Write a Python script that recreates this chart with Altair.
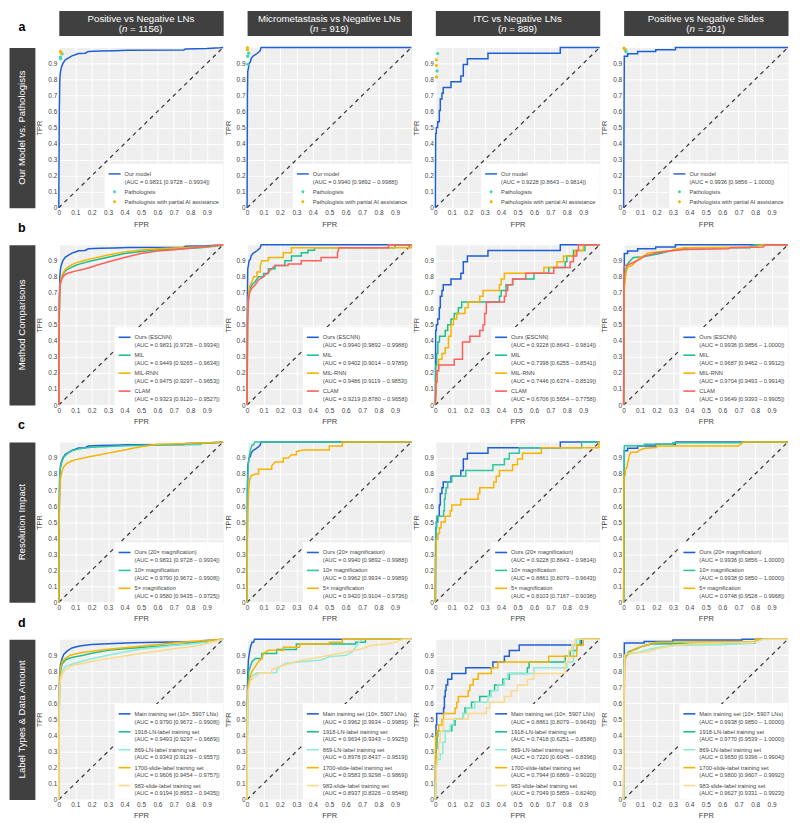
import altair as alt
import pandas as pd

FONT = "Liberation Sans"
TICKS = [0, 0.1, 0.2, 0.3, 0.4, 0.5, 0.6, 0.7, 0.8, 0.9]
DIAG = [(0, 0), (1, 1)]

COL_TITLES = ["Positive vs Negative LNs", "Micrometastasis vs Negative LNs",
              "ITC vs Negative LNs", "Positive vs Negative Slides"]
COL_N = ["1156", "919", "889", "201"]
ROW_TITLES = ["Our Model vs. Pathologists", "Method Comparisons",
              "Resolution Impact", "Label Types & Data Amount"]
ROW_LETTERS = ["a", "b", "c", "d"]

NAMES_A = ["Our model"]
NAMES_B = ["Ours (ESCNN)", "MIL", "MIL-RNN", "CLAM"]
NAMES_C = ["Ours (20× magnification)", "10× magnification", "5× magnification"]
NAMES_D = ["Main training set (10×, 5907 LNs)", "1918-LN-label training set",
           "869-LN-label training set", "1700-slide-label training set",
           "983-slide-label training set"]
PATH_NAMES = ["Pathologists", "Pathologists with partial AI assistance"]

# AUC texts per column (Positive, Micro, ITC, Slides)
AUC_OURS = ["0.9831 [0.9728 – 0.9934]", "0.9940 [0.9892 – 0.9988]",
            "0.9228 [0.8643 – 0.9814]", "0.9936 [0.9856 – 1.0000]"]
AUC_MIL = ["0.9449 [0.9265 – 0.9634]", "0.9402 [0.9014 – 0.9789]",
           "0.7398 [0.6255 – 0.8541]", "0.9687 [0.9462 – 0.9912]"]
AUC_MILRNN = ["0.9475 [0.9297 – 0.9653]", "0.9486 [0.9119 – 0.9853]",
              "0.7446 [0.6374 – 0.8519]", "0.9704 [0.9493 – 0.9914]"]
AUC_CLAM = ["0.9323 [0.9120 – 0.9527]", "0.9219 [0.8780 – 0.9658]",
            "0.6706 [0.5654 – 0.7758]", "0.9649 [0.9393 – 0.9905]"]
AUC_10X = ["0.9790 [0.9672 – 0.9908]", "0.9962 [0.9934 – 0.9989]",
           "0.8861 [0.8079 – 0.9643]", "0.9938 [0.9850 – 1.0000]"]
AUC_5X = ["0.9580 [0.9435 – 0.9725]", "0.9420 [0.9104 – 0.9736]",
          "0.8103 [0.7167 – 0.9038]", "0.9748 [0.9528 – 0.9968]"]
AUC_1918 = ["0.9493 [0.9297 – 0.9689]", "0.9634 [0.9343 – 0.9925]",
            "0.7418 [0.6251 – 0.8586]", "0.9770 [0.9539 – 1.0000]"]
AUC_869 = ["0.9343 [0.9129 – 0.9557]", "0.8978 [0.8437 – 0.9519]",
           "0.7220 [0.6045 – 0.8396]", "0.9650 [0.9396 – 0.9904]"]
AUC_1700 = ["0.9606 [0.9454 – 0.9757]", "0.9583 [0.9298 – 0.9869]",
            "0.7944 [0.6869 – 0.9020]", "0.9800 [0.9607 – 0.9992]"]
AUC_983 = ["0.9194 [0.8953 – 0.9435]", "0.8937 [0.8326 – 0.9548]",
           "0.7049 [0.5859 – 0.8240]", "0.9627 [0.9331 – 0.9923]"]

# ---------------- ROC curves (fpr, tpr) ----------------
# Positive vs Negative LNs
OURS_POS = [(0, 0), (0.003, 0.6), (0.006, 0.8), (0.01, 0.847), (0.016, 0.875), (0.025, 0.9),
            (0.04, 0.922), (0.06, 0.935), (0.08, 0.947), (0.1, 0.954), (0.12, 0.962), (0.16, 0.964),
            (0.18, 0.974), (0.25, 0.977), (0.34, 0.979), (0.42, 0.982), (0.76, 0.984), (0.77, 0.99),
            (0.9, 0.993), (0.98, 0.998), (1, 1)]
MIL_POS = [(0, 0), (0.002, 0.5), (0.005, 0.7), (0.01, 0.76), (0.02, 0.8), (0.035, 0.83), (0.05, 0.845),
           (0.08, 0.86), (0.1, 0.87), (0.13, 0.88), (0.2, 0.9), (0.3, 0.922), (0.4, 0.945), (0.5, 0.958),
           (0.6, 0.968), (0.74, 0.975), (0.86, 0.98), (0.95, 0.99), (1, 1)]
MILRNN_POS = [(0, 0), (0.002, 0.5), (0.005, 0.7), (0.01, 0.77), (0.02, 0.81), (0.035, 0.84), (0.05, 0.855),
              (0.08, 0.875), (0.1, 0.885), (0.15, 0.9), (0.2, 0.913), (0.3, 0.935), (0.4, 0.955),
              (0.5, 0.966), (0.6, 0.974), (0.7, 0.979), (0.85, 0.985), (0.92, 0.99), (1, 1)]
CLAM_POS = [(0, 0), (0.002, 0.5), (0.004, 0.68), (0.01, 0.76), (0.02, 0.79), (0.035, 0.81), (0.05, 0.82),
            (0.08, 0.83), (0.1, 0.835), (0.13, 0.842), (0.18, 0.855), (0.24, 0.875), (0.32, 0.898),
            (0.4, 0.92), (0.5, 0.945), (0.6, 0.96), (0.7, 0.968), (0.8, 0.978), (0.9, 0.988), (1, 1)]
TEN_POS = [(0, 0), (0.002, 0.6), (0.005, 0.78), (0.01, 0.84), (0.02, 0.88), (0.03, 0.905), (0.05, 0.925),
           (0.08, 0.945), (0.12, 0.956), (0.16, 0.962), (0.2, 0.967), (0.3, 0.972), (0.45, 0.977),
           (0.6, 0.98), (0.86, 0.983), (0.87, 0.99), (0.95, 0.995), (1, 1)]
FIVE_POS = [(0, 0), (0.002, 0.5), (0.005, 0.65), (0.01, 0.77), (0.02, 0.82), (0.03, 0.845), (0.05, 0.867),
            (0.08, 0.882), (0.1, 0.888), (0.15, 0.9), (0.2, 0.91), (0.25, 0.92), (0.3, 0.93), (0.35, 0.94),
            (0.4, 0.95), (0.45, 0.96), (0.5, 0.97), (0.55, 0.978), (0.6, 0.985), (0.8, 0.99), (1, 1)]
L1918_POS = [(0, 0), (0.002, 0.5), (0.005, 0.72), (0.01, 0.8), (0.02, 0.845), (0.04, 0.87), (0.07, 0.882),
             (0.1, 0.89), (0.15, 0.9), (0.2, 0.912), (0.3, 0.93), (0.4, 0.94), (0.5, 0.948), (0.6, 0.955),
             (0.7, 0.963), (0.8, 0.973), (0.9, 0.985), (1, 1)]
L869_POS = [(0, 0), (0.002, 0.5), (0.005, 0.7), (0.01, 0.77), (0.02, 0.8), (0.04, 0.83), (0.1, 0.85),
            (0.15, 0.865), (0.2, 0.878), (0.3, 0.9), (0.4, 0.92), (0.5, 0.938), (0.6, 0.95), (0.7, 0.96),
            (0.8, 0.97), (0.9, 0.98), (1, 1)]
S1700_POS = [(0, 0), (0.002, 0.5), (0.005, 0.75), (0.01, 0.82), (0.02, 0.86), (0.04, 0.88), (0.07, 0.9),
             (0.1, 0.907), (0.15, 0.918), (0.2, 0.925), (0.3, 0.937), (0.4, 0.947), (0.5, 0.956),
             (0.6, 0.966), (0.7, 0.976), (0.8, 0.985), (0.9, 0.992), (1, 1)]
S983_POS = [(0, 0), (0.002, 0.5), (0.005, 0.68), (0.01, 0.75), (0.02, 0.78), (0.04, 0.81), (0.07, 0.83),
            (0.1, 0.84), (0.15, 0.85), (0.2, 0.86), (0.3, 0.88), (0.4, 0.895), (0.5, 0.91), (0.6, 0.925),
            (0.7, 0.94), (0.8, 0.953), (0.85, 0.96), (0.9, 0.972), (1, 1)]

# Micrometastasis vs Negative LNs
OURS_MIC = [(0, 0), (0.002, 0.7), (0.004, 0.85), (0.008, 0.87), (0.012, 0.9), (0.02, 0.91), (0.025, 0.93),
            (0.035, 0.945), (0.05, 0.955), (0.06, 0.962), (0.07, 0.97), (0.08, 0.98), (0.085, 1.0), (1, 1)]
MIL_MIC = [(0, 0), (0.003, 0.6), (0.008, 0.66), (0.015, 0.72), (0.03, 0.75), (0.05, 0.77), (0.07, 0.8),
           (0.1, 0.8), (0.1, 0.82), (0.13, 0.82), (0.13, 0.85), (0.17, 0.85), (0.17, 0.87), (0.23, 0.87),
           (0.23, 0.9), (0.27, 0.9), (0.27, 0.93), (0.33, 0.93), (0.33, 0.95), (0.37, 0.95), (0.37, 0.965),
           (0.41, 0.965), (0.41, 0.98), (0.9, 0.98), (0.9, 1.0), (1, 1)]
MILRNN_MIC = [(0, 0), (0.003, 0.55), (0.008, 0.68), (0.015, 0.74), (0.03, 0.77), (0.04, 0.8), (0.06, 0.8),
              (0.06, 0.83), (0.08, 0.83), (0.08, 0.87), (0.09, 0.9), (0.13, 0.9), (0.13, 0.92), (0.22, 0.92),
              (0.22, 0.95), (0.27, 0.95), (0.27, 0.98), (1.0, 0.98), (1, 1)]
CLAM_MIC = [(0, 0), (0.003, 0.5), (0.008, 0.65), (0.015, 0.7), (0.03, 0.73), (0.05, 0.75), (0.07, 0.78),
            (0.1, 0.8), (0.13, 0.83), (0.15, 0.85), (0.17, 0.87), (0.25, 0.87), (0.25, 0.88), (0.33, 0.88),
            (0.33, 0.9), (0.45, 0.9), (0.45, 0.92), (0.55, 0.92), (0.55, 0.95), (0.56, 0.98), (0.86, 0.98),
            (0.86, 1.0), (1, 1)]
TEN_MIC = [(0, 0), (0.002, 0.7), (0.005, 0.8), (0.008, 0.87), (0.012, 0.9), (0.02, 0.95), (0.03, 0.98),
           (0.04, 0.98), (0.045, 1.0), (1, 1)]
FIVE_MIC = [(0, 0), (0.002, 0.4), (0.005, 0.58), (0.01, 0.7), (0.015, 0.76), (0.025, 0.79), (0.05, 0.8),
            (0.07, 0.8), (0.07, 0.83), (0.15, 0.83), (0.15, 0.85), (0.17, 0.875), (0.22, 0.875), (0.22, 0.9),
            (0.25, 0.9), (0.27, 0.92), (0.3, 0.92), (0.3, 0.94), (0.34, 0.95), (0.5, 0.95), (0.5, 0.975),
            (0.58, 0.975), (0.58, 1.0), (1, 1)]
L1918_MIC = [(0, 0), (0.002, 0.6), (0.006, 0.72), (0.01, 0.8), (0.02, 0.83), (0.03, 0.86), (0.05, 0.88),
             (0.09, 0.88), (0.09, 0.91), (0.18, 0.91), (0.18, 0.935), (0.3, 0.935), (0.3, 0.97), (0.66, 0.97),
             (0.66, 0.98), (0.72, 0.98), (0.72, 1.0), (1, 1)]
L869_MIC = [(0, 0), (0.002, 0.55), (0.006, 0.68), (0.015, 0.74), (0.03, 0.77), (0.06, 0.79), (0.18, 0.79),
            (0.18, 0.81), (0.2, 0.83), (0.24, 0.85), (0.35, 0.86), (0.45, 0.87), (0.5, 0.89), (0.6, 0.9),
            (0.64, 0.92), (0.66, 0.95), (0.68, 0.98), (0.7, 1.0), (1, 1)]
S1700_MIC = [(0, 0), (0.002, 0.6), (0.006, 0.7), (0.015, 0.76), (0.03, 0.8), (0.05, 0.83), (0.07, 0.86),
             (0.09, 0.88), (0.1, 0.91), (0.13, 0.93), (0.22, 0.93), (0.22, 0.95), (0.32, 0.95), (0.32, 0.97),
             (0.5, 0.97), (0.5, 0.98), (0.58, 0.98), (0.58, 1.0), (1, 1)]
S983_MIC = [(0, 0), (0.002, 0.55), (0.008, 0.68), (0.02, 0.74), (0.05, 0.77), (0.08, 0.79), (0.15, 0.79),
            (0.15, 0.81), (0.2, 0.83), (0.25, 0.845), (0.3, 0.86), (0.4, 0.88), (0.5, 0.9), (0.6, 0.92),
            (0.7, 0.94), (0.75, 0.96), (0.85, 0.97), (0.9, 0.98), (0.95, 1.0), (1, 1)]

# ITC vs Negative LNs
OURS_ITC = [(0, 0), (0.002, 0.464), (0.006, 0.464), (0.006, 0.5), (0.014, 0.5), (0.014, 0.536),
            (0.024, 0.536), (0.024, 0.607), (0.03, 0.607), (0.03, 0.679), (0.04, 0.679), (0.04, 0.714),
            (0.048, 0.714), (0.048, 0.75), (0.095, 0.75), (0.095, 0.786), (0.155, 0.786), (0.155, 0.821),
            (0.17, 0.821), (0.17, 0.893), (0.195, 0.893), (0.195, 0.929), (0.32, 0.929), (0.32, 0.964),
            (0.76, 0.964), (0.76, 1.0), (1, 1)]
MIL_ITC = [(0, 0), (0.002, 0.25), (0.008, 0.25), (0.008, 0.321), (0.015, 0.321), (0.015, 0.393),
           (0.025, 0.393), (0.025, 0.429), (0.06, 0.429), (0.06, 0.464), (0.075, 0.464), (0.075, 0.5),
           (0.095, 0.5), (0.095, 0.536), (0.115, 0.536), (0.115, 0.571), (0.14, 0.571), (0.14, 0.607),
           (0.16, 0.607), (0.16, 0.643), (0.39, 0.643), (0.39, 0.679), (0.4, 0.679), (0.4, 0.714),
           (0.43, 0.714), (0.43, 0.75), (0.47, 0.75), (0.47, 0.786), (0.6, 0.786), (0.6, 0.821),
           (0.69, 0.821), (0.69, 0.857), (0.79, 0.857), (0.79, 0.893), (0.8, 0.893), (0.8, 0.929),
           (0.84, 0.929), (0.84, 0.964), (0.91, 0.964), (0.91, 1.0), (1, 1)]
MILRNN_ITC = [(0, 0), (0.002, 0.071), (0.004, 0.071), (0.004, 0.143), (0.01, 0.143), (0.01, 0.214),
              (0.02, 0.214), (0.02, 0.286), (0.04, 0.286), (0.04, 0.321), (0.06, 0.321), (0.06, 0.357),
              (0.08, 0.357), (0.08, 0.429), (0.095, 0.429), (0.095, 0.5), (0.11, 0.5), (0.11, 0.536),
              (0.13, 0.536), (0.13, 0.571), (0.18, 0.571), (0.18, 0.607), (0.2, 0.607), (0.2, 0.643),
              (0.27, 0.643), (0.27, 0.679), (0.29, 0.679), (0.29, 0.714), (0.39, 0.714), (0.39, 0.75),
              (0.4, 0.75), (0.4, 0.786), (0.42, 0.786), (0.42, 0.821), (0.66, 0.821), (0.66, 0.857),
              (0.74, 0.857), (0.74, 0.893), (0.78, 0.893), (0.78, 0.929), (0.85, 0.929), (0.85, 0.964),
              (0.9, 0.964), (0.9, 1.0), (1, 1)]
CLAM_ITC = [(0, 0), (0.002, 0.071), (0.004, 0.071), (0.004, 0.143), (0.01, 0.143), (0.01, 0.214),
            (0.02, 0.214), (0.02, 0.25), (0.115, 0.25), (0.115, 0.286), (0.165, 0.286), (0.165, 0.393),
            (0.21, 0.393), (0.21, 0.429), (0.27, 0.429), (0.27, 0.464), (0.29, 0.464), (0.29, 0.5),
            (0.3, 0.5), (0.3, 0.571), (0.31, 0.571), (0.31, 0.643), (0.42, 0.643), (0.42, 0.679),
            (0.43, 0.679), (0.43, 0.714), (0.44, 0.714), (0.44, 0.75), (0.47, 0.75), (0.47, 0.786),
            (0.55, 0.786), (0.55, 0.821), (0.72, 0.821), (0.72, 0.857), (0.82, 0.857), (0.82, 0.893),
            (0.84, 0.893), (0.84, 0.929), (0.86, 0.929), (0.86, 0.964), (0.87, 0.964), (0.87, 1.0), (1, 1)]
TEN_ITC = [(0, 0), (0.002, 0.393), (0.004, 0.393), (0.004, 0.464), (0.008, 0.464), (0.008, 0.536),
           (0.05, 0.536), (0.05, 0.571), (0.055, 0.571), (0.055, 0.643), (0.06, 0.643), (0.06, 0.679),
           (0.065, 0.679), (0.065, 0.714), (0.075, 0.714), (0.075, 0.75), (0.1, 0.75), (0.1, 0.786),
           (0.185, 0.786), (0.185, 0.821), (0.35, 0.821), (0.35, 0.857), (0.42, 0.857), (0.42, 0.893),
           (0.45, 0.893), (0.45, 0.929), (0.51, 0.929), (0.51, 0.964), (0.89, 0.964), (0.89, 1.0), (1, 1)]
FIVE_ITC = [(0, 0), (0.002, 0.286), (0.005, 0.286), (0.005, 0.393), (0.015, 0.393), (0.015, 0.429),
            (0.025, 0.429), (0.025, 0.464), (0.035, 0.464), (0.035, 0.5), (0.06, 0.5), (0.06, 0.536),
            (0.09, 0.536), (0.09, 0.571), (0.1, 0.571), (0.1, 0.607), (0.155, 0.607), (0.155, 0.643),
            (0.26, 0.643), (0.26, 0.679), (0.27, 0.679), (0.27, 0.714), (0.355, 0.714), (0.355, 0.75),
            (0.37, 0.75), (0.37, 0.786), (0.39, 0.786), (0.39, 0.821), (0.47, 0.821), (0.47, 0.857),
            (0.5, 0.857), (0.5, 0.893), (0.53, 0.893), (0.53, 0.929), (0.645, 0.929), (0.645, 0.964),
            (0.995, 0.964), (0.995, 1.0), (1, 1)]
L1918_ITC = [(0, 0), (0.002, 0.25), (0.005, 0.25), (0.005, 0.321), (0.01, 0.321), (0.01, 0.393),
             (0.015, 0.393), (0.015, 0.429), (0.1, 0.429), (0.1, 0.464), (0.12, 0.464), (0.12, 0.5),
             (0.17, 0.5), (0.17, 0.536), (0.18, 0.536), (0.18, 0.571), (0.22, 0.571), (0.22, 0.607),
             (0.27, 0.607), (0.27, 0.643), (0.33, 0.643), (0.33, 0.679), (0.36, 0.679), (0.36, 0.714),
             (0.41, 0.714), (0.41, 0.75), (0.45, 0.75), (0.45, 0.786), (0.56, 0.786), (0.56, 0.821),
             (0.57, 0.821), (0.57, 0.857), (0.79, 0.857), (0.79, 0.893), (0.82, 0.893), (0.82, 0.929),
             (0.86, 0.929), (0.86, 0.964), (0.88, 0.964), (0.88, 1.0), (1, 1)]
L869_ITC = [(0, 0), (0.002, 0.214), (0.01, 0.214), (0.01, 0.25), (0.03, 0.25), (0.03, 0.286),
            (0.045, 0.286), (0.045, 0.357), (0.06, 0.357), (0.06, 0.429), (0.09, 0.429), (0.09, 0.464),
            (0.11, 0.464), (0.11, 0.5), (0.17, 0.5), (0.17, 0.536), (0.19, 0.536), (0.19, 0.571),
            (0.24, 0.571), (0.24, 0.607), (0.32, 0.607), (0.32, 0.643), (0.34, 0.643), (0.34, 0.679),
            (0.38, 0.679), (0.38, 0.714), (0.42, 0.714), (0.42, 0.75), (0.44, 0.75), (0.44, 0.786),
            (0.6, 0.786), (0.6, 0.821), (0.8, 0.821), (0.8, 0.857), (0.84, 0.857), (0.84, 0.964),
            (0.86, 0.964), (0.86, 1.0), (1, 1)]
S1700_ITC = [(0, 0), (0.002, 0.393), (0.01, 0.393), (0.01, 0.429), (0.02, 0.429), (0.02, 0.464),
             (0.04, 0.464), (0.04, 0.5), (0.05, 0.5), (0.05, 0.536), (0.12, 0.536), (0.12, 0.571),
             (0.13, 0.571), (0.13, 0.607), (0.14, 0.607), (0.14, 0.643), (0.2, 0.643), (0.2, 0.679),
             (0.21, 0.679), (0.21, 0.714), (0.23, 0.714), (0.23, 0.75), (0.26, 0.75), (0.26, 0.786),
             (0.34, 0.786), (0.34, 0.821), (0.38, 0.821), (0.38, 0.857), (0.69, 0.857), (0.69, 0.893),
             (0.86, 0.893), (0.86, 0.964), (0.9, 0.964), (0.9, 1.0), (1, 1)]
S983_ITC = [(0, 0), (0.002, 0.107), (0.005, 0.107), (0.005, 0.214), (0.012, 0.214), (0.012, 0.286),
            (0.02, 0.286), (0.02, 0.357), (0.03, 0.357), (0.03, 0.429), (0.05, 0.429), (0.05, 0.5),
            (0.2, 0.5), (0.2, 0.536), (0.31, 0.536), (0.31, 0.571), (0.33, 0.571), (0.33, 0.607),
            (0.42, 0.607), (0.42, 0.643), (0.46, 0.643), (0.46, 0.679), (0.5, 0.679), (0.5, 0.714),
            (0.56, 0.714), (0.56, 0.75), (0.6, 0.75), (0.6, 0.786), (0.79, 0.786), (0.79, 0.857),
            (0.81, 0.857), (0.81, 0.929), (0.83, 0.929), (0.83, 0.964), (0.85, 0.964), (0.85, 1.0), (1, 1)]

# Positive vs Negative Slides
OURS_SLD = [(0, 0), (0.004, 0.945), (0.024, 0.945), (0.024, 0.96), (0.085, 0.96), (0.085, 0.975),
            (0.195, 0.975), (0.195, 0.985), (0.315, 0.985), (0.315, 1.0), (1, 1)]
MIL_SLD = [(0, 0), (0.002, 0.6), (0.004, 0.77), (0.008, 0.8), (0.015, 0.85), (0.025, 0.88), (0.04, 0.9),
           (0.06, 0.92), (0.12, 0.925), (0.15, 0.93), (0.2, 0.94), (0.24, 0.95), (0.28, 0.96), (0.33, 0.97),
           (0.4, 0.98), (0.77, 0.98), (0.77, 0.99), (0.8, 1.0), (1, 1)]
MILRNN_SLD = [(0, 0), (0.002, 0.6), (0.004, 0.73), (0.008, 0.76), (0.015, 0.83), (0.025, 0.86), (0.05, 0.87),
              (0.08, 0.9), (0.1, 0.92), (0.13, 0.935), (0.15, 0.95), (0.28, 0.96), (0.3, 0.97), (0.37, 0.98),
              (0.8, 0.985), (0.84, 1.0), (1, 1)]
CLAM_SLD = [(0, 0), (0.002, 0.86), (0.01, 0.87), (0.03, 0.875), (0.06, 0.89), (0.1, 0.91), (0.13, 0.93),
            (0.2, 0.95), (0.28, 0.96), (0.37, 0.97), (0.64, 0.975), (0.65, 0.98), (0.85, 0.985), (0.86, 1.0),
            (1, 1)]
TEN_SLD = [(0, 0), (0.004, 0.976), (0.125, 0.976), (0.125, 0.986), (0.3, 0.986), (0.3, 0.995),
           (0.72, 0.995), (0.72, 1.0), (1, 1)]
FIVE_SLD = [(0, 0), (0.002, 0.79), (0.01, 0.79), (0.01, 0.83), (0.02, 0.84), (0.025, 0.87), (0.03, 0.89),
            (0.035, 0.92), (0.045, 0.935), (0.085, 0.935), (0.09, 0.945), (0.1, 0.95), (0.13, 0.96),
            (0.2, 0.965), (0.2, 0.975), (0.7, 0.975), (0.71, 0.985), (0.73, 1.0), (1, 1)]
L1918_SLD = [(0, 0), (0.002, 0.78), (0.005, 0.86), (0.01, 0.9), (0.03, 0.92), (0.05, 0.93), (0.08, 0.94),
             (0.1, 0.95), (0.13, 0.96), (0.17, 0.97), (0.8, 0.975), (0.8, 0.98), (0.83, 1.0), (1, 1)]
L869_SLD = [(0, 0), (0.002, 0.77), (0.006, 0.86), (0.02, 0.9), (0.05, 0.91), (0.1, 0.92), (0.13, 0.93),
            (0.17, 0.94), (0.22, 0.95), (0.3, 0.96), (0.6, 0.965), (0.8, 0.975), (0.8, 0.98), (0.85, 1.0),
            (1, 1)]
S1700_SLD = [(0, 0), (0.002, 0.62), (0.005, 0.7), (0.008, 0.88), (0.02, 0.9), (0.04, 0.92), (0.07, 0.94),
             (0.1, 0.95), (0.13, 0.96), (0.16, 0.97), (0.2, 0.98), (0.8, 0.985), (0.8, 1.0), (1, 1)]
S983_SLD = [(0, 0), (0.002, 0.6), (0.005, 0.9), (0.02, 0.91), (0.15, 0.92), (0.2, 0.94), (0.25, 0.95),
            (0.3, 0.96), (0.4, 0.97), (0.8, 0.98), (0.85, 1.0), (1, 1)]

# Pathologist operating points (fpr, tpr) per column
PATH_PLAIN = [[(0.02, 0.96), (0.01, 0.94), (0.01, 0.93)],
              [(0.01, 0.964), (0.003, 0.945), (0.004, 0.895)],
              [(0.014, 0.962), (0.01, 0.853)],
              [(0.01, 0.985), (0.014, 0.975)]]
PATH_AI = [[(0.01, 0.975), (0.014, 0.966)],
           [(0.002, 0.999), (0.002, 0.986)],
           [(0.006, 0.923), (0.006, 0.887), (0.006, 0.816)],
           [(0.002, 0.996), (0.006, 0.99)]]

# ---------------- style ----------------
PLOT_W, PLOT_H = 165, 161
BG = "#EFEFEF"
DARK = "#404040"
BLUE = "#1F5FD6"
GREEN = "#1DBF8C"
TEAL = "#2EC7A0"
ORANGE = "#F6B400"
RED = "#FF5E5E"
LTEAL = "#8EEBD6"
LORANGE = "#FDD98A"
P_TEAL = "#3FD9B5"
P_ORANGE = "#F7B500"
LINE_SYM = "M-1,-0.12H1V0.12H-1Z"
DOT_SYM = "M0.25,0A0.25,0.25,0,1,1,-0.25,0A0.25,0.25,0,1,1,0.25,0Z"

XAXIS = alt.Axis(values=TICKS, title="FPR", format="~g", labelFlush=False)
YAXIS = alt.Axis(values=TICKS, title="TPR", format="~g")


def legend_def(**kw):
    return alt.Legend(title=None, labelExpr="split(datum.label, '|')", **kw)


def make_panel(curves, names, aucs, colors, plain=None, ai=None):
    keys = [f"{n}|(AUC = {a})" for n, a in zip(names, aucs)]
    rec = []
    for k, pts in zip(keys, curves):
        for i, (fx, ty) in enumerate(pts):
            rec.append({"series": k, "fpr": fx, "tpr": ty, "i": i})
    df = pd.DataFrame(rec)
    ddf = pd.DataFrame(DIAG, columns=["fpr", "tpr"])
    xenc = alt.X("fpr:Q", scale=alt.Scale(domain=[0, 1], nice=False), axis=XAXIS)
    yenc = alt.Y("tpr:Q", scale=alt.Scale(domain=[0, 1], nice=False), axis=YAXIS)
    diag = alt.Chart(ddf).mark_line(color="#333333", strokeWidth=1.2, strokeDash=[4, 4]).encode(x=xenc, y=yenc)
    if plain is None:
        lines = alt.Chart(df).mark_line(strokeWidth=1.5).encode(
            x=xenc, y=yenc,
            color=alt.Color("series:N", scale=alt.Scale(domain=keys, range=colors),
                            legend=legend_def(symbolType="stroke", symbolStrokeWidth=1.6)),
            order=alt.Order("i:Q"))
        return alt.layer(diag, lines).properties(width=PLOT_W, height=PLOT_H)
    # row a: single model line + pathologist points; the legend comes from the point layer
    all_keys = keys + PATH_NAMES
    cscale = alt.Scale(domain=all_keys, range=colors + [P_TEAL, P_ORANGE])
    lines = alt.Chart(df).mark_line(strokeWidth=1.5, color=colors[0]).encode(
        x=xenc, y=yenc, order=alt.Order("i:Q"))
    prec = []
    for nm, pts in zip(PATH_NAMES, [plain, ai]):
        for fx, ty in pts:
            prec.append({"series": nm, "fpr": fx, "tpr": ty})
    leg = legend_def()
    pts = alt.Chart(pd.DataFrame(prec)).mark_point(filled=True, size=169, opacity=1).encode(
        x=xenc, y=yenc,
        color=alt.Color("series:N", scale=cscale, legend=leg),
        shape=alt.Shape("series:N", scale=alt.Scale(domain=all_keys, range=[LINE_SYM, DOT_SYM, DOT_SYM]),
                        legend=leg))
    return alt.layer(diag, lines, pts).properties(width=PLOT_W, height=PLOT_H)


# char widths (em) for centring the "(n = ...)" line
CW = {"(": 0.333, ")": 0.333, "n": 0.556, " ": 0.278, "=": 0.584}


def header(title, n):
    fs = 9.7
    base = alt.Chart(pd.DataFrame({"k": [0]}))
    rest = f"= {n})"
    w_rest = sum(CW.get(ch, 0.556) for ch in rest)
    total = (CW["("] + CW["n"] + CW[" "] + w_rest) * fs
    left = PLOT_W / 2 - total / 2
    common = dict(color="white", fontSize=fs, baseline="middle", fontWeight="normal")
    l1 = base.mark_text(text=title, **common).encode(x=alt.value(PLOT_W / 2), y=alt.value(8.5))
    p1 = base.mark_text(text="(", align="left", **common).encode(x=alt.value(left), y=alt.value(18.5))
    p2 = base.mark_text(text="n", fontStyle="italic", align="left", **common).encode(
        x=alt.value(left + CW["("] * fs), y=alt.value(18.5))
    p3 = base.mark_text(text=rest, align="left", **common).encode(
        x=alt.value(left + (CW["("] + CW["n"] + CW[" "]) * fs), y=alt.value(18.5))
    return alt.layer(l1, p1, p2, p3).properties(
        width=PLOT_W, height=25, view=alt.ViewBackground(fill=DARK, stroke="transparent"))


def row_label(text, letter):
    ch = alt.Chart(pd.DataFrame({"k": [0]})).mark_text(
        text=text, angle=270, color="white", fontSize=9.6, baseline="middle", fontWeight="normal").encode(
        x=alt.value(13), y=alt.value(PLOT_H / 2))
    props = dict(width=26, height=PLOT_H, view=alt.ViewBackground(fill=DARK, stroke="transparent"))
    if letter:
        props["title"] = alt.Title(letter, anchor="start", fontSize=12.5, fontWeight="bold",
                                   color="black", offset=10, dx=9)
    return ch.properties(**props)


spacer = alt.Chart(pd.DataFrame({"k": [0]})).mark_text(
    text=ROW_LETTERS[0], fontSize=12.5, fontWeight="bold", color="black", baseline="middle").encode(
    x=alt.value(13), y=alt.value(17)).properties(
    width=26, height=25, view=alt.ViewBackground(fill="white", stroke="transparent"))

header_row = alt.hconcat(spacer, *[header(t, n) for t, n in zip(COL_TITLES, COL_N)],
                         spacing=24, bounds="flush")

POS = [OURS_POS, OURS_MIC, OURS_ITC, OURS_SLD]
MIL = [MIL_POS, MIL_MIC, MIL_ITC, MIL_SLD]
MILRNN = [MILRNN_POS, MILRNN_MIC, MILRNN_ITC, MILRNN_SLD]
CLAM = [CLAM_POS, CLAM_MIC, CLAM_ITC, CLAM_SLD]
TEN = [TEN_POS, TEN_MIC, TEN_ITC, TEN_SLD]
FIVE = [FIVE_POS, FIVE_MIC, FIVE_ITC, FIVE_SLD]
L1918 = [L1918_POS, L1918_MIC, L1918_ITC, L1918_SLD]
L869 = [L869_POS, L869_MIC, L869_ITC, L869_SLD]
S1700 = [S1700_POS, S1700_MIC, S1700_ITC, S1700_SLD]
S983 = [S983_POS, S983_MIC, S983_ITC, S983_SLD]

cells = []
for r in range(4):
    cells.append(row_label(ROW_TITLES[r], ROW_LETTERS[r] if r > 0 else None))
    for c in range(4):
        if r == 0:
            p = make_panel([POS[c]], NAMES_A, [AUC_OURS[c]], [BLUE], PATH_PLAIN[c], PATH_AI[c])
        elif r == 1:
            p = make_panel([POS[c], MIL[c], MILRNN[c], CLAM[c]], NAMES_B,
                           [AUC_OURS[c], AUC_MIL[c], AUC_MILRNN[c], AUC_CLAM[c]],
                           [BLUE, GREEN, ORANGE, RED])
        elif r == 2:
            p = make_panel([POS[c], TEN[c], FIVE[c]], NAMES_C,
                           [AUC_OURS[c], AUC_10X[c], AUC_5X[c]], [BLUE, TEAL, ORANGE])
        else:
            p = make_panel([TEN[c], L1918[c], L869[c], S1700[c], S983[c]], NAMES_D,
                           [AUC_10X[c], AUC_1918[c], AUC_869[c], AUC_1700[c], AUC_983[c]],
                           [BLUE, GREEN, LTEAL, ORANGE, LORANGE])
        cells.append(p)

grid = alt.concat(*cells, columns=5, spacing={"row": 37, "column": 24},
                  bounds="flush", align="each").resolve_scale(color="independent", shape="independent")

chart = alt.vconcat(header_row, grid, spacing=7).properties(padding=0).configure(
    font=FONT
).configure_view(
    fill=BG, stroke="transparent"
).configure_axis(
    labelFontSize=6.5, labelColor="#444444", titleFontSize=7.5, titleColor="#444444",
    titleFontWeight="normal", grid=True, gridColor="white", gridWidth=1, domain=False,
    ticks=False, labelPadding=2, titlePadding=4
).configure_legend(
    orient="bottom-right", offset=0, fillColor="white", padding=3, labelFontSize=5.7,
    labelColor="#444444", symbolSize=144, rowPadding=0, labelOffset=3, labelLimit=300
)

chart.save("out.html", embed_options={"renderer": "svg", "actions": False})
